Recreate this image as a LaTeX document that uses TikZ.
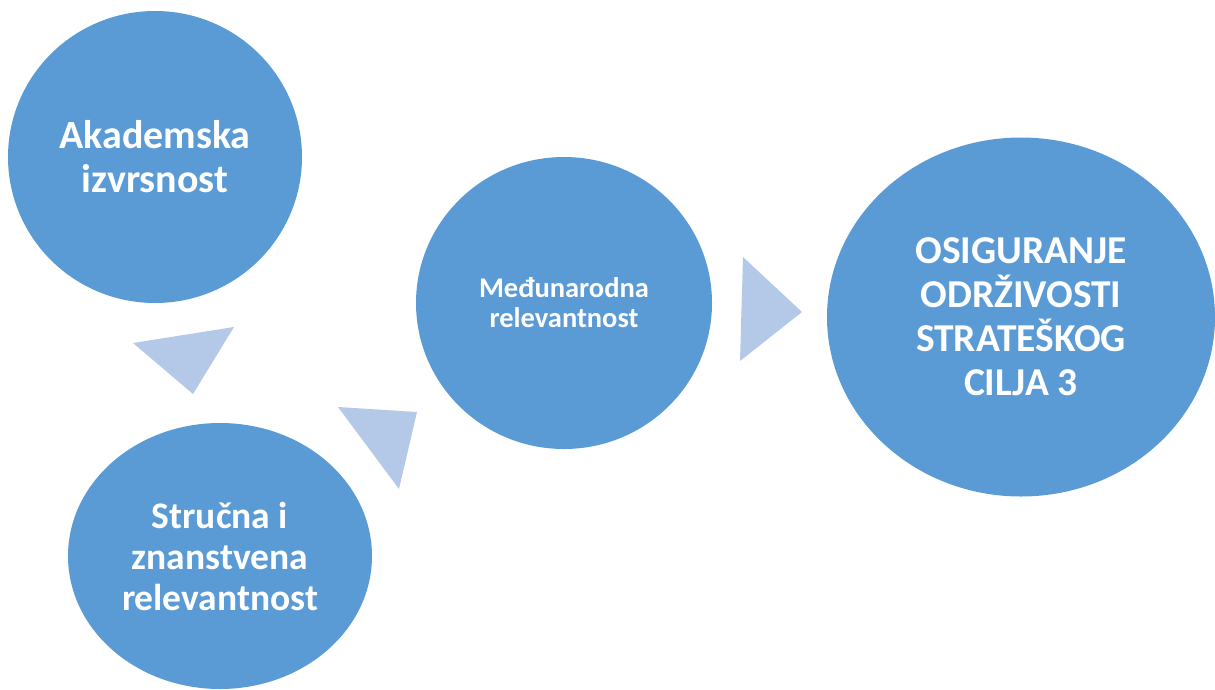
\documentclass[tikz,border=0pt]{standalone}
\usepackage{fontspec}
\setmainfont{Carlito}
\usepackage{xcolor}
\usetikzlibrary{shapes.geometric}
\definecolor{goalblue}{RGB}{91,155,213}
\definecolor{arrowblue}{RGB}{180,200,231}

\begin{document}
\begin{tikzpicture}[
x=1pt,y=-1pt,
blob/.style={ellipse,fill=goalblue,inner sep=0pt,align=center,text=white,font=\bfseries},
chevron/.style={fill=arrowblue}
]
\useasboundingbox (0,0) rectangle (1215,689);

\node[blob,minimum width=294pt,minimum height=292pt,font=\bfseries\fontsize{40}{44}\selectfont] (akad) at (155,157) {Akademska\\izvrsnost};
\node[blob,minimum width=304pt,minimum height=266pt,font=\bfseries\fontsize{37.5}{41}\selectfont] (struc) at (220,556) {Stručna i\\znanstvena\\relevantnost};
\node[blob,minimum width=296pt,minimum height=292pt,font=\bfseries\fontsize{28.5}{30}\selectfont] (medj) at (564,303) {Međunarodna\\relevantnost};
\node[blob,minimum width=388pt,minimum height=359pt,font=\bfseries\fontsize{39.5}{44}\selectfont] (cilj) at (1021,317) {OSIGURANJE\\ODRŽIVOSTI\\STRATEŠKOG\\CILJA 3};

% arrows between the circles
\fill[chevron] (133,343) -- (234,327) -- (193,394) -- cycle;
\fill[chevron] (338,407) -- (417,412) -- (399,489) -- cycle;
\fill[chevron] (743,257) -- (802,312) -- (740,361) -- cycle;
\end{tikzpicture}
\end{document}
